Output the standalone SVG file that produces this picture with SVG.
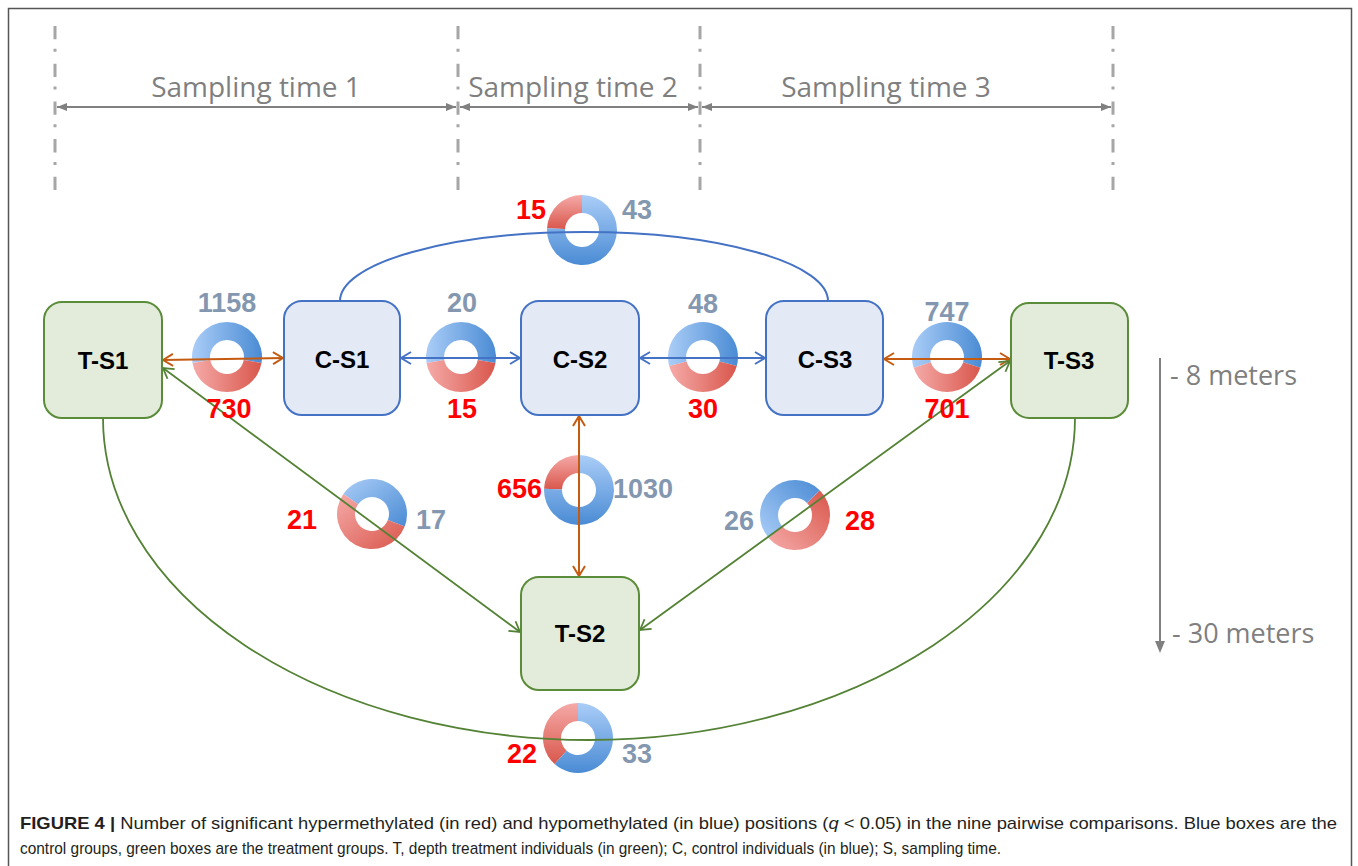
<svg xmlns="http://www.w3.org/2000/svg" width="1358" height="866" viewBox="0 0 1358 866">
<style>
.tl{font-family:"Open Sans","Liberation Sans",sans-serif;font-size:28px;fill:#7f7f7f;text-anchor:middle}
.dp{font-family:"Open Sans","Liberation Sans",sans-serif;font-size:27px;fill:#7f7f7f}
.nl{font-family:"Liberation Sans",Arial,sans-serif;font-size:24px;font-weight:bold;fill:#000;text-anchor:middle}
.nb{font-family:"Liberation Sans",Arial,sans-serif;font-size:27px;font-weight:bold;fill:#8497b0}
.nr{font-family:"Liberation Sans",Arial,sans-serif;font-size:27px;font-weight:bold;fill:#ff0000}
.cap{font-family:"Liberation Sans",Arial,sans-serif;font-size:17px;fill:#231f20}
.cb{fill:#e3e9f5;stroke:#4472c4;stroke-width:2}
.tb{fill:#e3ecdb;stroke:#5b8c39;stroke-width:2}
.vd{stroke:#a6a6a6;stroke-width:3;stroke-dasharray:13.3 9.5 3 11.9;fill:none}
.ta{stroke:#808080;stroke-width:2;fill:none;marker-start:url(#aT);marker-end:url(#aT)}
.eo{stroke:#c55a11;stroke-width:2;fill:none;marker-start:url(#aO);marker-end:url(#aO)}
.eb{stroke:#4472c4;stroke-width:2;fill:none}
.ebm{marker-start:url(#aB);marker-end:url(#aB)}
.eg{stroke:#548235;stroke-width:1.8;fill:none}
.egm{marker-start:url(#aGr);marker-end:url(#aGr)}
</style>
<defs>
<marker id="aT" viewBox="0 0 10 8" refX="10" refY="4" markerWidth="10" markerHeight="8" markerUnits="userSpaceOnUse" orient="auto-start-reverse"><path d="M0,0 L10,4 L0,8 Z" fill="#808080"/></marker>
<marker id="aO" viewBox="0 0 12 14" refX="11" refY="7" markerWidth="12" markerHeight="14" markerUnits="userSpaceOnUse" orient="auto-start-reverse"><path d="M1,1 L11,7 L1,13" fill="none" stroke="#c55a11" stroke-width="2"/></marker>
<marker id="aB" viewBox="0 0 12 14" refX="11" refY="7" markerWidth="12" markerHeight="14" markerUnits="userSpaceOnUse" orient="auto-start-reverse"><path d="M1,1 L11,7 L1,13" fill="none" stroke="#4472c4" stroke-width="2"/></marker>
<marker id="aGr" viewBox="0 0 12 14" refX="11" refY="7" markerWidth="12" markerHeight="14" markerUnits="userSpaceOnUse" orient="auto-start-reverse"><path d="M1,1 L11,7 L1,13" fill="none" stroke="#548235" stroke-width="1.8"/></marker>
<linearGradient id="bH" x1="0" y1="0" x2="1" y2="0"><stop offset="0" stop-color="#aacdf7"/><stop offset="1" stop-color="#4a8bd4"/></linearGradient>
<linearGradient id="rH" x1="0" y1="0" x2="1" y2="0"><stop offset="0" stop-color="#f5aaa8"/><stop offset="1" stop-color="#d9574c"/></linearGradient>
<linearGradient id="bV" x1="0" y1="0" x2="0" y2="1"><stop offset="0" stop-color="#aacdf7"/><stop offset="1" stop-color="#4a8bd4"/></linearGradient>
<linearGradient id="rV" x1="0" y1="0" x2="0" y2="1"><stop offset="0" stop-color="#f5aaa8"/><stop offset="1" stop-color="#d9574c"/></linearGradient>
<linearGradient id="bD1" x1="0" y1="0" x2="1" y2="1"><stop offset="0" stop-color="#aacdf7"/><stop offset="1" stop-color="#4a8bd4"/></linearGradient>
<linearGradient id="rD1" x1="0" y1="0" x2="1" y2="1"><stop offset="0" stop-color="#f5aaa8"/><stop offset="1" stop-color="#d9574c"/></linearGradient>
<linearGradient id="bD2" x1="0" y1="1" x2="1" y2="0"><stop offset="0" stop-color="#aacdf7"/><stop offset="1" stop-color="#4a8bd4"/></linearGradient>
<linearGradient id="rD2" x1="0" y1="1" x2="1" y2="0"><stop offset="0" stop-color="#f5aaa8"/><stop offset="1" stop-color="#d9574c"/></linearGradient>
</defs>
<rect x="0" y="0" width="1358" height="866" fill="#ffffff"/>
<path d="M8.5,878 V8.5 H1351.5 V878" fill="none" stroke="#555555" stroke-width="1.5"/>

<g id="time-axis">
<line class="vd" x1="55" y1="26" x2="55" y2="191"/>
<line class="vd" x1="458" y1="26" x2="458" y2="191"/>
<line class="vd" x1="700" y1="26" x2="700" y2="191"/>
<line class="vd" x1="1113" y1="26" x2="1113" y2="191"/>
<line class="ta" x1="57" y1="107" x2="456" y2="107"/>
<line class="ta" x1="460" y1="107" x2="698" y2="107"/>
<line class="ta" x1="702" y1="107" x2="1111" y2="107"/>
<text class="tl" x="256" y="97">Sampling time 1</text>
<text class="tl" x="573" y="97">Sampling time 2</text>
<text class="tl" x="886" y="97">Sampling time 3</text>
</g>

<g id="depth-axis">
<line x1="1160" y1="358" x2="1160" y2="642" stroke="#808080" stroke-width="2"/>
<path d="M1155,641 L1165,641 L1160,653 Z" fill="#808080"/>
<text class="dp" x="1170" y="385">- 8 meters</text>
<text class="dp" x="1172" y="643">- 30 meters</text>
</g>

<g id="donuts">
<g id="d1" transform="translate(227,357)">
<path fill="url(#bH)" d="M-34.47,6.08 A35,35 0 1 1 34.47,6.08 L16.74,2.95 A17,17 0 1 0 -16.74,2.95 Z"/>
<path fill="url(#rH)" d="M34.47,6.08 A35,35 0 0 1 -34.47,6.08 L-16.74,2.95 A17,17 0 0 0 16.74,2.95 Z"/>
</g>
<g id="d2" transform="translate(461,357)">
<path fill="url(#bH)" d="M-34.47,6.08 A35,35 0 1 1 34.47,6.08 L16.74,2.95 A17,17 0 1 0 -16.74,2.95 Z"/>
<path fill="url(#rH)" d="M34.47,6.08 A35,35 0 0 1 -34.47,6.08 L-16.74,2.95 A17,17 0 0 0 16.74,2.95 Z"/>
</g>
<g id="d3" transform="translate(703,357)">
<path fill="url(#bH)" d="M-33.81,9.06 A35,35 0 1 1 33.81,9.06 L16.42,4.40 A17,17 0 1 0 -16.42,4.40 Z"/>
<path fill="url(#rH)" d="M33.81,9.06 A35,35 0 0 1 -33.81,9.06 L-16.42,4.40 A17,17 0 0 0 16.42,4.40 Z"/>
</g>
<g id="d4" transform="translate(947,357)">
<path fill="url(#bH)" d="M-33.29,10.82 A35,35 0 1 1 33.29,10.82 L16.17,5.25 A17,17 0 1 0 -16.17,5.25 Z"/>
<path fill="url(#rH)" d="M33.29,10.82 A35,35 0 0 1 -33.29,10.82 L-16.17,5.25 A17,17 0 0 0 16.17,5.25 Z"/>
</g>
<g id="d5" transform="translate(372,514)">
<path fill="url(#bD1)" d="M-28.67,-20.08 A35,35 0 0 1 32.68,12.54 L15.87,6.09 A17,17 0 0 0 -13.93,-9.75 Z"/>
<path fill="url(#rD1)" d="M32.68,12.54 A35,35 0 1 1 -28.67,-20.08 L-13.93,-9.75 A17,17 0 1 0 15.87,6.09 Z"/>
</g>
<g id="d6" transform="translate(579,490)">
<path fill="url(#rV)" d="M-34.98,-1.22 A35,35 0 0 1 0,-35 L0,-17 A17,17 0 0 0 -16.99,-0.59 Z"/>
<path fill="url(#bV)" d="M0,-35 A35,35 0 1 1 -34.98,-1.22 L-16.99,-0.59 A17,17 0 1 0 0,-17 Z"/>
</g>
<g id="d7" transform="translate(795,515)">
<path fill="url(#rD2)" d="M24.75,-24.75 A35,35 0 1 1 -26.41,22.96 L-12.83,11.15 A17,17 0 1 0 12.02,-12.02 Z"/>
<path fill="url(#bD2)" d="M-26.41,22.96 A35,35 0 0 1 24.75,-24.75 L12.02,-12.02 A17,17 0 0 0 -12.83,11.15 Z"/>
</g>
<g id="d8" transform="translate(578,738)">
<path fill="url(#rV)" d="M-23.42,26.01 A35,35 0 0 1 0,-35 L0,-17 A17,17 0 0 0 -11.37,12.63 Z"/>
<path fill="url(#bV)" d="M0,-35 A35,35 0 1 1 -23.42,26.01 L-11.37,12.63 A17,17 0 1 0 0,-17 Z"/>
</g>
<g id="d9" transform="translate(582,230)">
<path fill="url(#rV)" d="M-34.95,-1.83 A35,35 0 0 1 0,-35 L0,-17 A17,17 0 0 0 -16.98,-0.89 Z"/>
<path fill="url(#bV)" d="M0,-35 A35,35 0 1 1 -34.95,-1.83 L-16.98,-0.89 A17,17 0 1 0 0,-17 Z"/>
</g>
</g>

<g id="connectors">
<path class="eb" d="M340,301 A244,69 0 0 1 828,301"/>
<path class="eg" d="M103,418 A486,322 0 0 0 1075,418"/>
<line class="eo" x1="163" y1="360" x2="283" y2="358"/>
<line class="eb ebm" x1="401" y1="358" x2="520" y2="358"/>
<line class="eb ebm" x1="640" y1="358" x2="765" y2="358"/>
<line class="eo" x1="884" y1="359" x2="1010" y2="359"/>
<line class="eo" x1="579" y1="416" x2="579" y2="576"/>
<line class="eg egm" x1="163" y1="368" x2="520" y2="632"/>
<line class="eg egm" x1="1010" y1="361" x2="640" y2="630"/>
</g>

<g id="node-T-S1"><rect class="tb" x="44" y="302" width="118" height="116" rx="18"/><text class="nl" x="103" y="369">T-S1</text></g>
<g id="node-C-S1"><rect class="cb" x="284" y="301" width="116" height="114" rx="18"/><text class="nl" x="342" y="368">C-S1</text></g>
<g id="node-C-S2"><rect class="cb" x="521" y="301" width="118" height="114" rx="18"/><text class="nl" x="580" y="368">C-S2</text></g>
<g id="node-C-S3"><rect class="cb" x="766" y="301" width="117" height="114" rx="18"/><text class="nl" x="825" y="368">C-S3</text></g>
<g id="node-T-S3"><rect class="tb" x="1011" y="303" width="117" height="115" rx="18"/><text class="nl" x="1069" y="369">T-S3</text></g>
<g id="node-T-S2"><rect class="tb" x="521" y="577" width="118" height="113" rx="18"/><text class="nl" x="580" y="642">T-S2</text></g>

<g id="counts">
<text class="nb" x="227" y="312" text-anchor="middle">1158</text>
<text class="nr" x="229" y="418" text-anchor="middle">730</text>
<text class="nb" x="462" y="312" text-anchor="middle">20</text>
<text class="nr" x="462" y="418" text-anchor="middle">15</text>
<text class="nb" x="703" y="313" text-anchor="middle">48</text>
<text class="nr" x="703" y="418" text-anchor="middle">30</text>
<text class="nb" x="947" y="321" text-anchor="middle">747</text>
<text class="nr" x="947" y="418" text-anchor="middle">701</text>
<text class="nr" x="302" y="529" text-anchor="middle">21</text>
<text class="nb" x="416" y="529">17</text>
<text class="nr" x="542" y="498" text-anchor="end">656</text>
<text class="nb" x="613" y="498">1030</text>
<text class="nb" x="754" y="530" text-anchor="end">26</text>
<text class="nr" x="845" y="530">28</text>
<text class="nr" x="507" y="763">22</text>
<text class="nb" x="622" y="763">33</text>
<text class="nr" x="516" y="219">15</text>
<text class="nb" x="622" y="219">43</text>
</g>

<g id="caption">
<text class="cap" x="20" y="829" textLength="1317" lengthAdjust="spacingAndGlyphs"><tspan font-weight="bold">FIGURE 4 |</tspan> Number of significant hypermethylated (in red) and hypomethylated (in blue) positions (<tspan font-style="italic">q</tspan> &lt; 0.05) in the nine pairwise comparisons. Blue boxes are the</text>
<text class="cap" x="20" y="854" textLength="981" lengthAdjust="spacingAndGlyphs">control groups, green boxes are the treatment groups. T, depth treatment individuals (in green); C, control individuals (in blue); S, sampling time.</text>
</g>
</svg>
